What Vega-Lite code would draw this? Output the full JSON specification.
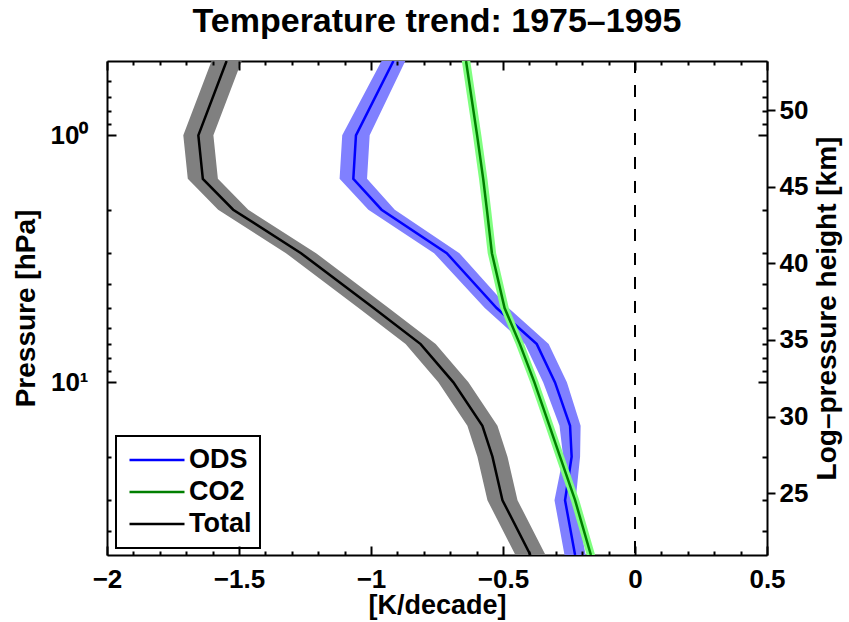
{
  "$schema": "https://vega.github.io/schema/vega-lite/v6.json",
  "width": 660,
  "height": 494,
  "autosize": {"type": "none"},
  "padding": {"left": 107, "top": 61, "right": 82, "bottom": 67},
  "background": "white",
  "title": {"text": "Temperature trend: 1975–1995", "font": "Liberation Sans", "fontSize": 34, "fontWeight": "bold", "color": "black", "anchor": "middle", "frame": "group", "offset": 21},
  "config": {
    "view": {"stroke": null},
    "font": "Liberation Sans",
    "axis": {"domainColor": "black", "domainWidth": 2, "labelColor": "black", "titleColor": "black", "labelFont": "Liberation Sans", "labelFontWeight": "bold", "labelFontSize": 26, "titleFont": "Liberation Sans", "titleFontWeight": "bold", "titleFontSize": 28, "grid": false, "labelOverlap": false, "labelFlush": false},
    "legend": {"strokeWidth": 2}
  },
  "datasets": {
    "prof": [
      {"series": "ODS", "p": 0.5, "t": -0.915, "lo": -0.960, "hi": -0.870},
      {"series": "ODS", "p": 1, "t": -1.057, "lo": -1.109, "hi": -1.005},
      {"series": "ODS", "p": 1.5, "t": -1.067, "lo": -1.119, "hi": -1.015},
      {"series": "ODS", "p": 2, "t": -0.960, "lo": -1.010, "hi": -0.910},
      {"series": "ODS", "p": 3, "t": -0.713, "lo": -0.761, "hi": -0.665},
      {"series": "ODS", "p": 5, "t": -0.524, "lo": -0.569, "hi": -0.479},
      {"series": "ODS", "p": 7, "t": -0.372, "lo": -0.417, "hi": -0.327},
      {"series": "ODS", "p": 10, "t": -0.303, "lo": -0.348, "hi": -0.258},
      {"series": "ODS", "p": 15, "t": -0.246, "lo": -0.286, "hi": -0.206},
      {"series": "ODS", "p": 20, "t": -0.240, "lo": -0.272, "hi": -0.208},
      {"series": "ODS", "p": 30, "t": -0.265, "lo": -0.305, "hi": -0.225},
      {"series": "ODS", "p": 50, "t": -0.227, "lo": -0.267, "hi": -0.187},
      {"series": "CO2", "p": 0.5, "t": -0.640, "lo": -0.656, "hi": -0.624},
      {"series": "CO2", "p": 1, "t": -0.598, "lo": -0.614, "hi": -0.582},
      {"series": "CO2", "p": 1.5, "t": -0.575, "lo": -0.591, "hi": -0.559},
      {"series": "CO2", "p": 2, "t": -0.561, "lo": -0.577, "hi": -0.545},
      {"series": "CO2", "p": 3, "t": -0.542, "lo": -0.558, "hi": -0.526},
      {"series": "CO2", "p": 5, "t": -0.494, "lo": -0.510, "hi": -0.478},
      {"series": "CO2", "p": 7, "t": -0.436, "lo": -0.452, "hi": -0.420},
      {"series": "CO2", "p": 10, "t": -0.381, "lo": -0.397, "hi": -0.365},
      {"series": "CO2", "p": 15, "t": -0.324, "lo": -0.340, "hi": -0.308},
      {"series": "CO2", "p": 20, "t": -0.284, "lo": -0.300, "hi": -0.268},
      {"series": "CO2", "p": 30, "t": -0.227, "lo": -0.243, "hi": -0.211},
      {"series": "CO2", "p": 50, "t": -0.167, "lo": -0.183, "hi": -0.151},
      {"series": "Total", "p": 0.5, "t": -1.547, "lo": -1.604, "hi": -1.490},
      {"series": "Total", "p": 1, "t": -1.654, "lo": -1.711, "hi": -1.597},
      {"series": "Total", "p": 1.5, "t": -1.637, "lo": -1.694, "hi": -1.580},
      {"series": "Total", "p": 2, "t": -1.522, "lo": -1.579, "hi": -1.465},
      {"series": "Total", "p": 3, "t": -1.265, "lo": -1.322, "hi": -1.208},
      {"series": "Total", "p": 5, "t": -0.990, "lo": -1.047, "hi": -0.933},
      {"series": "Total", "p": 7, "t": -0.812, "lo": -0.869, "hi": -0.755},
      {"series": "Total", "p": 10, "t": -0.688, "lo": -0.745, "hi": -0.631},
      {"series": "Total", "p": 15, "t": -0.578, "lo": -0.635, "hi": -0.521},
      {"series": "Total", "p": 20, "t": -0.540, "lo": -0.597, "hi": -0.483},
      {"series": "Total", "p": 30, "t": -0.502, "lo": -0.559, "hi": -0.445},
      {"series": "Total", "p": 50, "t": -0.396, "lo": -0.453, "hi": -0.339}
    ],
    "zero": [{"t": 0}],
    "km": [{"km": 20.97}, {"km": 53.206}]
  },
  "layer": [
    {
      "data": {"name": "prof"},
      "encoding": {
        "x": {"field": "t", "type": "quantitative", "scale": {"domain": [-2, 0.5], "nice": false, "zero": false}, "axis": null},
        "y": {"field": "p", "type": "quantitative", "scale": {"type": "log", "domain": [0.5, 50], "reverse": true, "nice": false}, "axis": null}
      },
      "layer": [
        {
          "transform": [{"filter": "datum.series === 'ODS'"}],
          "mark": {"type": "area", "orient": "horizontal", "color": "#8080ff", "clip": true},
          "encoding": {
            "x": {"field": "lo", "type": "quantitative", "scale": {"domain": [-2, 0.5], "nice": false, "zero": false},
              "axis": {"orient": "bottom", "values": [-2, -1.5, -1, -0.5, 0, 0.5], "ticks": false, "tickSize": 0, "domain": true, "labelPadding": 11,
                "labelExpr": "replace(format(datum.value, '.1~f'), '-', '−')", "title": "[K/decade]", "titleFontSize": 27, "titlePadding": 0}},
            "x2": {"field": "hi"},
            "y": {"field": "p", "type": "quantitative", "scale": {"type": "log", "domain": [0.5, 50], "reverse": true, "nice": false},
              "axis": {"orient": "left", "values": [1, 10], "ticks": false, "tickSize": 0, "domain": true, "labelPadding": 19,
                "labelExpr": "datum.value == 1 ? '10⁰' : '10¹'", "title": "Pressure [hPa]", "titlePadding": 10}}
          }
        },
        {
          "transform": [{"filter": "datum.series === 'ODS'"}],
          "mark": {"type": "line", "strokeWidth": 2.5, "clip": true},
          "encoding": {
            "x": {"field": "t", "type": "quantitative", "scale": {"domain": [-2, 0.5], "nice": false, "zero": false},
              "axis": {"orient": "bottom", "values": [-2, -1.5, -1, -0.5, 0, 0.5], "labels": false, "ticks": false, "domain": false, "title": null,
                "grid": true, "gridColor": "black", "gridOpacity": 1, "gridWidth": 2, "gridDash": [9, 476, 9, 2000], "zindex": 1}},
            "y": {"field": "p", "type": "quantitative", "scale": {"type": "log", "domain": [0.5, 50], "reverse": true, "nice": false},
              "axis": {"orient": "left", "values": [1, 10], "labels": false, "ticks": false, "domain": false, "title": null,
                "grid": true, "gridColor": "black", "gridOpacity": 1, "gridWidth": 2, "gridDash": [9, 642, 9, 2000], "zindex": 1}},
            "order": {"field": "p", "type": "quantitative"},
            "stroke": {"field": "series", "type": "nominal",
              "scale": {"domain": ["ODS", "CO2", "Total"], "range": ["#0000ff", "#007f00", "#000000"]},
              "legend": {"orient": "none", "legendX": 9, "legendY": 375, "title": null, "symbolType": "stroke", "symbolSize": 3025, "symbolStrokeWidth": 2.5, "clipHeight": 32, "labelFont": "Liberation Sans", "labelFontWeight": "bold", "labelFontSize": 27, "labelColor": "black", "labelOffset": 3, "symbolOffset": 4, "padding": 8, "strokeColor": "black", "fillColor": "white", "rowPadding": 0}}
          }
        },
        {
          "transform": [{"filter": "datum.series === 'CO2'"}],
          "mark": {"type": "area", "orient": "horizontal", "color": "#80ff80", "clip": true},
          "encoding": {
            "x": {"field": "lo", "type": "quantitative", "scale": {"domain": [-2, 0.5], "nice": false, "zero": false},
              "axis": {"orient": "bottom", "values": [-1.9,-1.8,-1.7,-1.6,-1.4,-1.3,-1.2,-1.1,-0.9,-0.8,-0.7,-0.6,-0.4,-0.3,-0.2,-0.1,0.1,0.2,0.3,0.4], "labels": false, "ticks": false, "domain": false, "title": null,
                "grid": true, "gridColor": "black", "gridOpacity": 1, "gridWidth": 2, "gridDash": [4, 486, 4, 2000], "zindex": 1}},
            "x2": {"field": "hi"},
            "y": {"field": "p", "type": "quantitative", "scale": {"type": "log", "domain": [0.5, 50], "reverse": true, "nice": false},
              "axis": {"orient": "left", "values": [0.6,0.7,0.8,0.9,2,3,4,5,6,7,8,9,20,30,40], "labels": false, "ticks": false, "domain": false, "title": null,
                "grid": true, "gridColor": "black", "gridOpacity": 1, "gridWidth": 2, "gridDash": [4, 651, 5, 2000], "zindex": 1}}
          }
        },
        {
          "transform": [{"filter": "datum.series === 'CO2'"}],
          "mark": {"type": "line", "strokeWidth": 2.5, "clip": true},
          "encoding": {
            "x": {"field": "t", "type": "quantitative", "scale": {"domain": [-2, 0.5], "nice": false, "zero": false},
              "axis": {"orient": "top", "values": [-2, 0.5], "labels": false, "ticks": false, "domain": true, "title": null}},
            "order": {"field": "p", "type": "quantitative"},
            "stroke": {"field": "series", "type": "nominal", "legend": null}
          }
        },
        {
          "transform": [{"filter": "datum.series === 'Total'"}],
          "mark": {"type": "area", "orient": "horizontal", "color": "#808080", "clip": true},
          "encoding": {"x": {"field": "lo", "type": "quantitative", "axis": null}, "x2": {"field": "hi"}}
        },
        {
          "transform": [{"filter": "datum.series === 'Total'"}],
          "mark": {"type": "line", "strokeWidth": 2.5, "clip": true},
          "encoding": {
            "order": {"field": "p", "type": "quantitative"},
            "stroke": {"field": "series", "type": "nominal", "legend": null}
          }
        },
        {
          "data": {"name": "zero"},
          "mark": {"type": "rule", "color": "black", "strokeWidth": 2, "strokeDash": [12, 12]},
          "encoding": {"x": {"field": "t", "type": "quantitative", "axis": null}, "y": null}
        }
      ],
      "resolve": {"axis": {"x": "independent", "y": "independent"}}
    },
    {
      "data": {"name": "km"},
      "mark": {"type": "rule", "strokeOpacity": 0},
      "encoding": {
        "y": {"field": "km", "type": "quantitative", "scale": {"domain": [20.97, 53.206], "nice": false, "zero": false},
          "axis": {"orient": "right", "values": [25, 30, 35, 40, 45, 50], "ticks": true, "tickColor": "black", "tickWidth": 2, "tickSize": 8, "labelPadding": 4, "domain": true,
            "title": "Log–pressure height [km]", "titleAngle": 270, "titleBaseline": "top", "titlePadding": 6}}
      }
    }
  ],
  "resolve": {"scale": {"y": "independent"}}
}
